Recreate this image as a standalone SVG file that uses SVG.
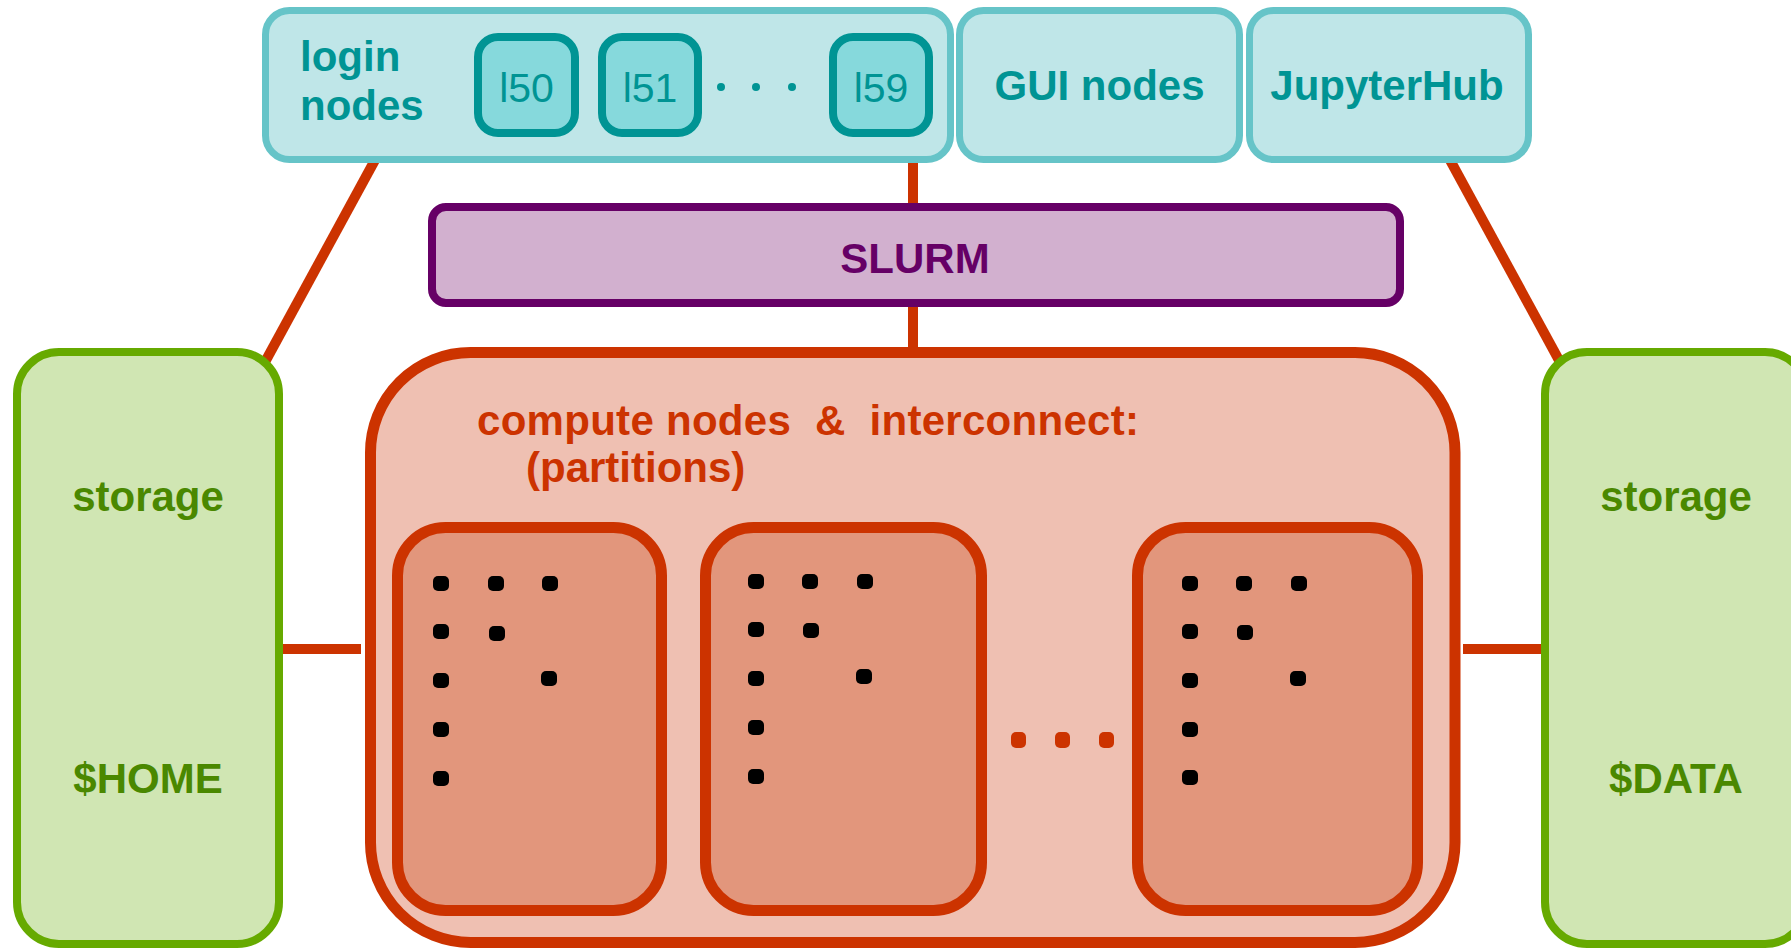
<svg xmlns="http://www.w3.org/2000/svg" width="1791" height="949" viewBox="0 0 1791 949">
<defs>
<style>
.lbl{font-family:"Liberation Sans",Arial,sans-serif;font-weight:bold;font-size:42px;white-space:pre}
.teal{fill:#009494}
.outer{fill:#bfe6e8;stroke:#66c4c8;stroke-width:7}
.lnode{fill:#86d9dc;stroke:#009494;stroke-width:8}
.ltxt{font-family:"Liberation Sans",Arial,sans-serif;font-size:41px;fill:#009494}
.slurm{fill:#d2b0cf;stroke:#660066;stroke-width:8}
.comp{fill:#efc0b2;stroke:#cc3300;stroke-width:11}
.part{fill:#e2967c;stroke:#cc3300;stroke-width:11}
.stor{fill:#d0e6b3;stroke:#66aa00;stroke-width:8}
.green{fill:#4a8800}
.conn{stroke:#cc3300;stroke-width:10;fill:none}
.dot{fill:#000}
.odot{fill:#cc3300}
</style>
</defs>
<rect x="0" y="0" width="1791" height="949" fill="#ffffff"/>
<g id="connectors">
<line class="conn" x1="375" y1="160" x2="265" y2="362" stroke-width="9"/>
<line class="conn" x1="1450" y1="160" x2="1560" y2="362" stroke-width="9"/>
<line class="conn" x1="913" y1="160" x2="913" y2="208"/>
<line class="conn" x1="913" y1="304" x2="913" y2="350"/>
<line class="conn" x1="283" y1="649" x2="361" y2="649"/>
<line class="conn" x1="1463" y1="649" x2="1542" y2="649"/>
</g>
<g id="login-nodes">
<rect class="outer" x="265.5" y="10.5" width="685" height="149" rx="24"/>
<text class="lbl teal" x="300" y="71">login</text>
<text class="lbl teal" x="300" y="120">nodes</text>
</g>
<g id="l50">
<rect class="lnode" x="478" y="37" width="97" height="96" rx="20"/>
<text class="ltxt" x="526.5" y="102" text-anchor="middle">l50</text>
</g>
<g id="l51">
<rect class="lnode" x="602" y="37" width="96" height="96" rx="20"/>
<text class="ltxt" x="650" y="102" text-anchor="middle">l51</text>
</g>
<g id="login-ellipsis">
<circle cx="721" cy="87" r="4" fill="#009494"/>
<circle cx="756" cy="87" r="4" fill="#009494"/>
<circle cx="792" cy="87" r="4" fill="#009494"/>
</g>
<g id="l59">
<rect class="lnode" x="833" y="37" width="96" height="96" rx="20"/>
<text class="ltxt" x="881" y="102" text-anchor="middle">l59</text>
</g>
<g id="gui-nodes">
<rect class="outer" x="959.5" y="10.5" width="280" height="149" rx="24"/>
<text class="lbl teal" x="1099.5" y="100" text-anchor="middle">GUI nodes</text>
</g>
<g id="jupyterhub">
<rect class="outer" x="1249.5" y="10.5" width="279" height="149" rx="24"/>
<text class="lbl teal" x="1387" y="100" text-anchor="middle">JupyterHub</text>
</g>
<g id="slurm">
<rect class="slurm" x="432" y="207" width="968" height="96" rx="14"/>
<text class="lbl" x="915" y="273" text-anchor="middle" fill="#660066">SLURM</text>
</g>
<g id="storage-home">
<rect class="stor" x="17" y="352" width="262" height="592" rx="42"/>
<text class="lbl green" x="148" y="511" text-anchor="middle">storage</text>
<text class="lbl green" x="148" y="793" text-anchor="middle">$HOME</text>
</g>
<g id="storage-data">
<rect class="stor" x="1545" y="352" width="262" height="592" rx="42"/>
<text class="lbl green" x="1676" y="511" text-anchor="middle">storage</text>
<text class="lbl green" x="1676" y="793" text-anchor="middle">$DATA</text>
</g>
<g id="compute">
<rect class="comp" x="370.5" y="352.5" width="1084.5" height="590" rx="100"/>
<text class="lbl" x="477" y="435" fill="#cc3300" xml:space="preserve" textLength="662" lengthAdjust="spacing">compute nodes  &amp;  interconnect:</text>
<text class="lbl" x="526" y="482" fill="#cc3300">(partitions)</text>
</g>
<g id="partition-1">
<rect class="part" x="397.5" y="527.5" width="264" height="383" rx="48"/>
<rect class="dot" x="433" y="576" width="16" height="15" rx="5"/>
<rect class="dot" x="488" y="576" width="16" height="15" rx="5"/>
<rect class="dot" x="542" y="576" width="16" height="15" rx="5"/>
<rect class="dot" x="433" y="624" width="16" height="15" rx="5"/>
<rect class="dot" x="489" y="626" width="16" height="15" rx="5"/>
<rect class="dot" x="433" y="673" width="16" height="15" rx="5"/>
<rect class="dot" x="541" y="671" width="16" height="15" rx="5"/>
<rect class="dot" x="433" y="722" width="16" height="15" rx="5"/>
<rect class="dot" x="433" y="771" width="16" height="15" rx="5"/>
</g>
<g id="partition-2">
<rect class="part" x="705.5" y="527.5" width="276" height="383" rx="48"/>
<rect class="dot" x="748" y="574" width="16" height="15" rx="5"/>
<rect class="dot" x="802" y="574" width="16" height="15" rx="5"/>
<rect class="dot" x="857" y="574" width="16" height="15" rx="5"/>
<rect class="dot" x="748" y="622" width="16" height="15" rx="5"/>
<rect class="dot" x="803" y="623" width="16" height="15" rx="5"/>
<rect class="dot" x="748" y="671" width="16" height="15" rx="5"/>
<rect class="dot" x="856" y="669" width="16" height="15" rx="5"/>
<rect class="dot" x="748" y="720" width="16" height="15" rx="5"/>
<rect class="dot" x="748" y="769" width="16" height="15" rx="5"/>
</g>
<g id="partition-ellipsis">
<rect class="odot" x="1011" y="732" width="15" height="16" rx="5"/>
<rect class="odot" x="1055" y="732" width="15" height="16" rx="5"/>
<rect class="odot" x="1099" y="732" width="15" height="16" rx="5"/>
</g>
<g id="partition-n">
<rect class="part" x="1137.5" y="527.5" width="280" height="383" rx="48"/>
<rect class="dot" x="1182" y="576" width="16" height="15" rx="5"/>
<rect class="dot" x="1236" y="576" width="16" height="15" rx="5"/>
<rect class="dot" x="1291" y="576" width="16" height="15" rx="5"/>
<rect class="dot" x="1182" y="624" width="16" height="15" rx="5"/>
<rect class="dot" x="1237" y="625" width="16" height="15" rx="5"/>
<rect class="dot" x="1182" y="673" width="16" height="15" rx="5"/>
<rect class="dot" x="1290" y="671" width="16" height="15" rx="5"/>
<rect class="dot" x="1182" y="722" width="16" height="15" rx="5"/>
<rect class="dot" x="1182" y="770" width="16" height="15" rx="5"/>
</g>
</svg>
